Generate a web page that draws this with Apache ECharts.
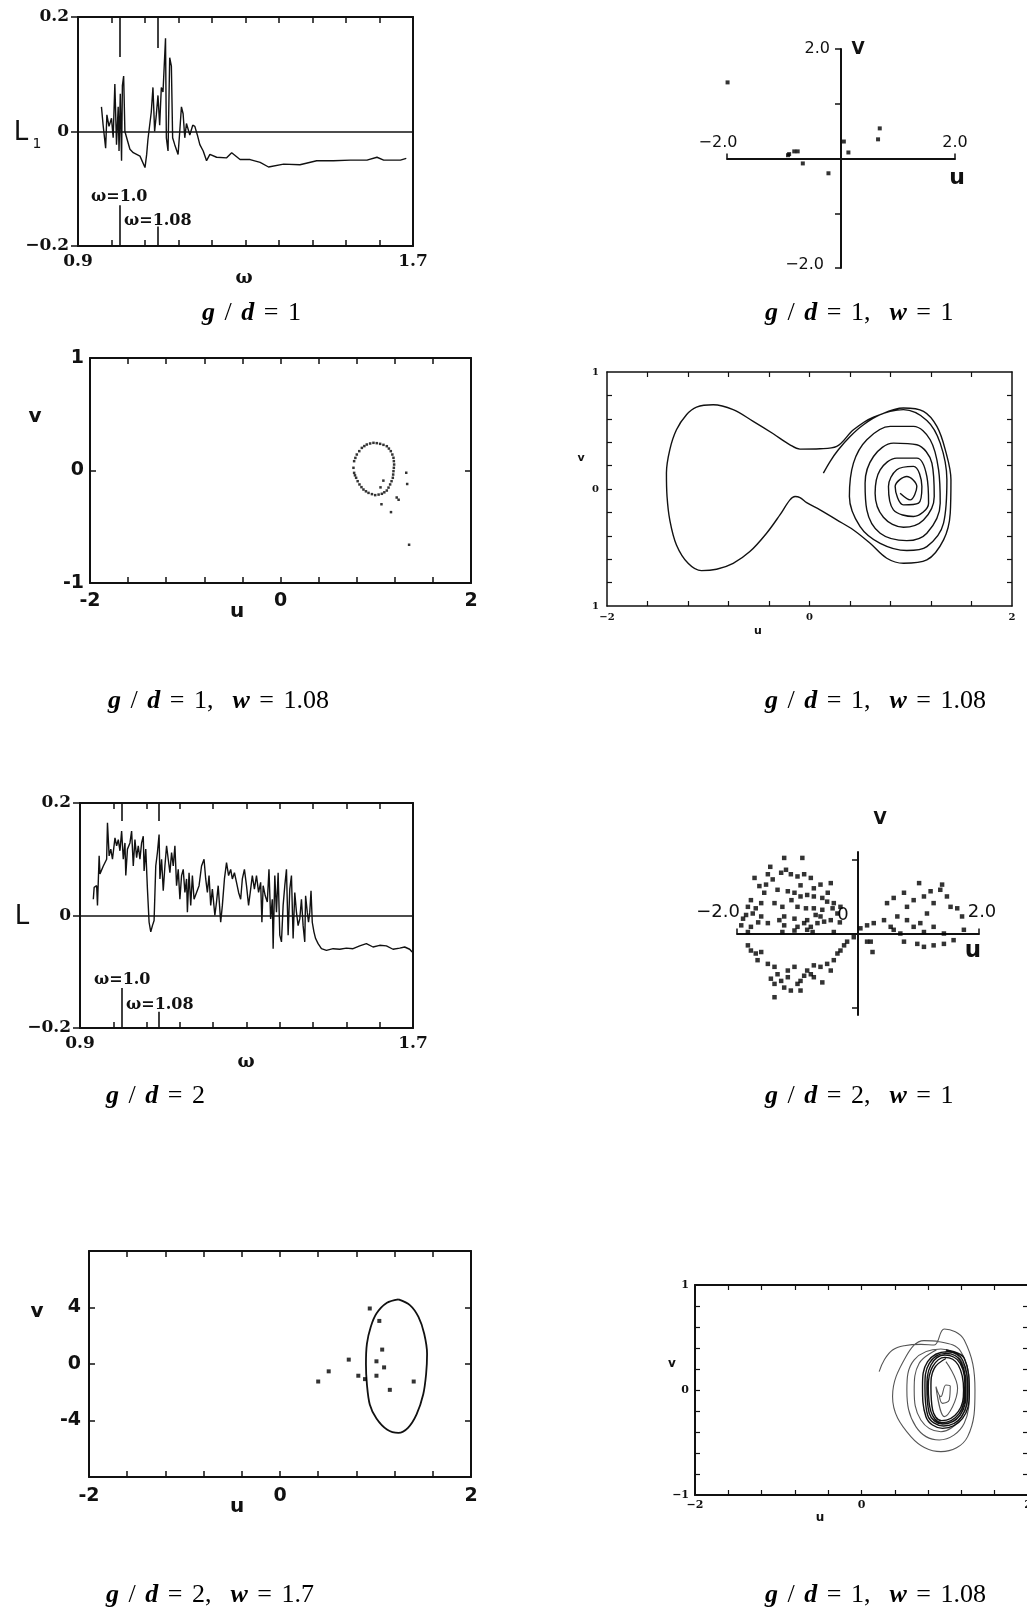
<!DOCTYPE html>
<html><head><meta charset="utf-8">
<script src="https://cdn.jsdelivr.net/npm/echarts@6/dist/echarts.min.js"></script>
<style>html,body{margin:0;padding:0;background:#fff}#c{width:1027px;height:1609px}</style>
</head><body><div id="c"></div>
<script>
// ---------------- DATA ----------------
// Panel 1: Lyapunov exponent L1 vs omega, g/d = 1
const p1Curve = [[0.956,0.043],[0.960,0.011],[0.966,-0.029],[0.969,0.029],[0.974,0.009],[0.980,0.023],[0.984,-0.011],[0.988,0.083],[0.992,-0.023],[0.996,0.043],[0.998,-0.034],[1.001,0.066],[1.004,-0.051],[1.006,0.080],[1.009,0.097],[1.012,0.000],[1.016,-0.003],[1.024,-0.031],[1.032,-0.037],[1.048,-0.043],[1.060,-0.063],[1.064,-0.040],[1.067,-0.014],[1.075,0.034],[1.079,0.077],[1.083,0.000],[1.087,0.029],[1.091,0.063],[1.095,0.011],[1.099,0.077],[1.103,0.069],[1.109,0.163],[1.111,-0.011],[1.115,-0.034],[1.119,0.129],[1.123,0.114],[1.126,-0.011],[1.131,-0.023],[1.139,-0.040],[1.143,0.000],[1.147,0.043],[1.151,0.031],[1.155,-0.011],[1.159,0.014],[1.167,-0.006],[1.174,0.011],[1.179,0.009],[1.185,-0.006],[1.191,-0.023],[1.199,-0.034],[1.207,-0.051],[1.215,-0.040],[1.231,-0.045],[1.255,-0.046],[1.267,-0.037],[1.287,-0.049],[1.311,-0.049],[1.335,-0.054],[1.355,-0.062],[1.391,-0.057],[1.430,-0.058],[1.470,-0.051],[1.510,-0.051],[1.550,-0.050],[1.590,-0.050],[1.614,-0.045],[1.630,-0.050],[1.670,-0.050],[1.684,-0.047]];
const omegaMarks = [1.0, 1.09];
const p1MarkTop = [0.13, 0.146];
const p1MarkBottom = [-0.129, -0.166];
const omegaTicks = [0.98,1.06,1.14,1.22,1.30,1.38,1.46,1.54,1.62];
const omegaLabels = [0.9, 1.7];
const lLabels = [-0.2, 0, 0.2];

// Panel 2: Poincare section g/d = 1, w = 1
const p2Points = [[-1.99,1.39],[-0.93,0.06],[-0.91,0.08],[-0.82,0.13],[-0.76,0.13],[-0.67,-0.09],[-0.22,-0.27],[0.05,0.31],[0.13,0.11],[0.65,0.35],[0.68,0.55]];
const p2VLabels = ['2.0', '−2.0'];
const p2ULabels = ['−2.0', '2.0'];

// Panel 3: g/d = 1, w = 1.08 (dotted orbit)
const p3Loop = [[0.766,0.024],[0.773,0.083],[0.786,0.112],[0.801,0.142],[0.827,0.172],[0.854,0.201],[0.880,0.217],[0.906,0.231],[0.941,0.240],[0.976,0.246],[1.011,0.243],[1.046,0.237],[1.081,0.228],[1.116,0.216],[1.138,0.195],[1.158,0.172],[1.174,0.142],[1.186,0.113],[1.190,0.083],[1.193,0.053],[1.190,0.024],[1.186,-0.006],[1.183,-0.036],[1.179,-0.065],[1.166,-0.095],[1.151,-0.124],[1.134,-0.152],[1.116,-0.178],[1.090,-0.194],[1.064,-0.207],[1.030,-0.214],[0.994,-0.219],[0.960,-0.210],[0.924,-0.199],[0.897,-0.185],[0.871,-0.169],[0.850,-0.148],[0.829,-0.124],[0.810,-0.095],[0.794,-0.065],[0.782,-0.043],[0.773,-0.021]];
const p3Dots = [[1.32,-0.02],[1.33,-0.12],[1.24,-0.26],[1.06,-0.30],[1.16,-0.37],[1.35,-0.66],[1.08,-0.09],[1.05,-0.15],[1.22,-0.24]];

// Panel 4: phase trajectory g/d = 1, w = 1.08
const p4Path = [[0.137,0.136],[0.203,0.235],[0.285,0.335],[0.401,0.449],[0.533,0.549],[0.698,0.635],[0.928,0.692],[1.126,0.663],[1.258,0.535],[1.341,0.335],[1.397,0.078],[1.390,-0.207],[1.324,-0.435],[1.159,-0.606],[0.928,-0.635],[0.763,-0.592],[0.599,-0.464],[0.434,-0.350],[0.269,-0.264],[0.104,-0.178],[-0.028,-0.116],[-0.094,-0.073],[-0.143,-0.064],[-0.193,-0.093],[-0.292,-0.221],[-0.424,-0.378],[-0.589,-0.535],[-0.754,-0.635],[-0.918,-0.686],[-1.067,-0.698],[-1.199,-0.635],[-1.314,-0.478],[-1.380,-0.264],[-1.407,-0.064],[-1.413,0.136],[-1.380,0.335],[-1.314,0.506],[-1.215,0.635],[-1.116,0.700],[-0.951,0.720],[-0.754,0.678],[-0.556,0.578],[-0.358,0.472],[-0.193,0.378],[-0.094,0.341],[0.104,0.344],[0.269,0.364],[0.434,0.506],[0.632,0.615],[0.928,0.678],[1.159,0.586],[1.291,0.392],[1.357,0.078],[1.324,-0.292],[1.159,-0.492],[0.961,-0.526],[0.698,-0.464],[0.500,-0.321],[0.394,-0.064],[0.434,0.221],[0.566,0.421],[0.797,0.535],[1.027,0.535],[1.192,0.421],[1.275,0.164],[1.291,-0.121],[1.159,-0.378],[0.961,-0.441],[0.698,-0.378],[0.566,-0.178],[0.549,0.050],[0.632,0.278],[0.829,0.392],[1.060,0.378],[1.209,0.221],[1.232,-0.064],[1.126,-0.264],[0.928,-0.327],[0.730,-0.242],[0.648,-0.036],[0.698,0.164],[0.862,0.264],[1.060,0.264],[1.159,0.107],[1.176,-0.121],[1.027,-0.235],[0.829,-0.178],[0.780,0.021],[0.862,0.164],[1.027,0.193],[1.110,0.021],[1.077,-0.121],[0.928,-0.136],[0.846,0.021],[0.961,0.107],[1.060,0.021],[0.994,-0.093],[0.895,-0.036]];

// Panel 5: Lyapunov exponent L vs omega, g/d = 2
const p5Curve = [[0.932,0.029],[0.934,0.050],[0.940,0.053],[0.942,0.018],[0.946,0.106],[0.948,0.074],[0.956,0.088],[0.964,0.100],[0.966,0.165],[0.970,0.106],[0.974,0.118],[0.978,0.100],[0.984,0.138],[0.988,0.124],[0.992,0.135],[0.996,0.115],[1.000,0.150],[1.004,0.100],[1.008,0.129],[1.010,0.071],[1.014,0.118],[1.020,0.129],[1.024,0.150],[1.028,0.088],[1.032,0.135],[1.036,0.103],[1.040,0.124],[1.044,0.100],[1.048,0.129],[1.052,0.141],[1.054,0.079],[1.058,0.118],[1.062,0.047],[1.066,-0.012],[1.070,-0.029],[1.074,-0.018],[1.078,-0.009],[1.082,0.088],[1.086,0.112],[1.090,0.144],[1.092,0.065],[1.096,0.100],[1.100,0.044],[1.104,0.088],[1.108,0.124],[1.112,0.100],[1.116,0.076],[1.120,0.112],[1.124,0.088],[1.128,0.124],[1.132,0.053],[1.136,0.082],[1.140,0.029],[1.144,0.071],[1.148,0.082],[1.152,0.041],[1.156,0.065],[1.158,0.006],[1.162,0.076],[1.166,0.018],[1.170,0.071],[1.174,0.029],[1.180,0.041],[1.186,0.053],[1.192,0.088],[1.198,0.100],[1.202,0.065],[1.206,0.041],[1.210,0.071],[1.214,0.018],[1.218,0.047],[1.224,0.000],[1.228,0.024],[1.232,0.053],[1.238,-0.012],[1.242,0.018],[1.247,0.065],[1.252,0.094],[1.257,0.071],[1.262,0.082],[1.266,0.065],[1.271,0.076],[1.276,0.059],[1.281,0.041],[1.286,0.029],[1.290,0.065],[1.295,0.082],[1.300,0.053],[1.305,0.018],[1.310,0.047],[1.314,0.071],[1.319,0.047],[1.324,0.071],[1.329,0.041],[1.334,0.059],[1.337,-0.012],[1.340,0.053],[1.345,0.035],[1.350,0.024],[1.354,0.082],[1.358,-0.006],[1.362,0.029],[1.364,-0.059],[1.368,0.071],[1.372,0.006],[1.376,0.076],[1.380,-0.035],[1.384,-0.047],[1.388,0.018],[1.392,0.053],[1.396,0.082],[1.400,-0.035],[1.404,0.047],[1.408,0.071],[1.412,-0.041],[1.416,0.041],[1.420,0.006],[1.424,-0.018],[1.428,-0.006],[1.432,0.029],[1.436,-0.018],[1.440,-0.047],[1.442,0.035],[1.446,0.006],[1.449,-0.012],[1.452,0.006],[1.455,0.044],[1.458,-0.012],[1.462,-0.029],[1.466,-0.041],[1.472,-0.050],[1.480,-0.059],[1.492,-0.062],[1.508,-0.059],[1.524,-0.060],[1.540,-0.058],[1.556,-0.059],[1.572,-0.054],[1.588,-0.050],[1.604,-0.056],[1.620,-0.053],[1.636,-0.054],[1.652,-0.060],[1.668,-0.058],[1.680,-0.056],[1.692,-0.060],[1.698,-0.065]];
const p5MarkTop = [0.168, 0.168];
const p5MarkBottom = [-0.129, -0.171];

// Panel 6: Poincare section g/d = 2, w = 1
const p6Points = [[-1.22,1.02],[-0.92,1.02],[-1.71,0.75],[-1.49,0.80],[-1.41,0.73],[-1.27,0.82],[-1.19,0.86],[-1.11,0.80],[-1.00,0.77],[-0.89,0.80],[-0.78,0.75],[-0.73,0.61],[-0.62,0.66],[-0.45,0.68],[-1.63,0.64],[-1.52,0.66],[-1.33,0.59],[-1.16,0.57],[-1.05,0.55],[-0.95,0.50],[-0.84,0.52],[-0.73,0.50],[-0.59,0.48],[-0.51,0.43],[-0.40,0.41],[-1.77,0.45],[-1.82,0.36],[-1.69,0.34],[-1.60,0.41],[-1.38,0.41],[-1.25,0.36],[-1.00,0.36],[-0.86,0.34],[-0.73,0.34],[-0.59,0.32],[-0.42,0.34],[-0.29,0.36],[-1.85,0.25],[-1.74,0.27],[-1.60,0.23],[-1.22,0.23],[-1.05,0.20],[-0.84,0.18],[-0.62,0.23],[-0.45,0.18],[-0.34,0.27],[-1.93,0.11],[-1.77,0.09],[-1.49,0.14],[-1.22,0.11],[-1.00,0.09],[-0.89,0.14],[-0.78,0.09],[-0.67,0.14],[-0.56,0.16],[-0.40,0.02],[-1.82,0.02],[-1.25,0.02],[-1.05,0.04],[-0.84,0.05],[-0.75,0.02],[-1.45,0.90],[-1.55,0.55],[-0.95,0.65],[-1.30,0.18],[-0.70,0.25],[-1.90,0.20],[-0.50,0.55],[-1.10,0.45],[-1.65,0.15],[-0.30,0.15],
[-1.82,-0.16],[-1.77,-0.23],[-1.69,-0.27],[-1.60,-0.25],[-1.66,-0.36],[-1.49,-0.41],[-1.38,-0.45],[-1.33,-0.55],[-1.44,-0.61],[-1.38,-0.68],[-1.27,-0.64],[-1.16,-0.59],[-1.22,-0.73],[-1.11,-0.77],[-1.00,-0.68],[-0.95,-0.64],[-0.89,-0.57],[-0.84,-0.50],[-0.78,-0.55],[-0.73,-0.43],[-0.62,-0.45],[-0.51,-0.41],[-0.45,-0.50],[-0.59,-0.66],[-0.40,-0.36],[-0.34,-0.27],[-0.29,-0.23],[-0.23,-0.16],[-0.18,-0.11],[-0.07,-0.05],[-1.38,-0.86],[-1.16,-0.50],[-1.05,-0.45],[-0.95,-0.77],[-0.73,-0.59],
[0.04,0.07],[0.15,0.11],[0.26,0.14],[0.21,-0.11],[0.43,0.18],[0.48,0.41],[0.59,0.48],[0.76,0.55],[0.81,0.36],[0.92,0.45],[1.01,0.68],[1.09,0.50],[1.20,0.57],[1.25,0.41],[1.36,0.59],[1.39,0.66],[1.47,0.50],[1.53,0.36],[1.64,0.34],[1.72,0.23],[1.14,0.27],[1.03,0.14],[0.81,0.18],[0.65,0.23],[0.54,0.09],[0.59,0.05],[0.70,0.00],[0.92,0.09],[1.09,0.02],[1.25,0.09],[1.42,0.00],[1.75,0.05],[0.76,-0.11],[0.98,-0.14],[1.09,-0.18],[1.25,-0.16],[1.42,-0.14],[1.58,-0.09],[0.15,-0.11],[0.24,-0.25]];

// Panel 7: g/d = 2, w = 1.7
const p7Orbit = [[1.24,4.57],[1.36,4.17],[1.45,3.33],[1.51,2.14],[1.54,0.71],[1.53,-0.71],[1.50,-2.14],[1.43,-3.57],[1.34,-4.52],[1.24,-4.88],[1.12,-4.64],[1.01,-3.86],[0.94,-2.86],[0.91,-1.43],[0.90,0.00],[0.91,1.43],[0.95,2.62],[1.01,3.57],[1.12,4.33],[1.24,4.57]];
const p7Dots = [[0.94,3.93],[1.04,3.05],[1.07,1.02],[1.01,0.19],[1.09,-0.24],[0.72,0.31],[0.82,-0.83],[0.89,-1.07],[1.01,-0.83],[0.51,-0.52],[0.40,-1.24],[1.15,-1.83],[1.40,-1.24]];

// Panel 8: g/d = 1, w = 1.08 (trajectory)
const p8Outer = [[0.212,0.175],[0.273,0.286],[0.373,0.381],[0.513,0.422],[0.713,0.435],[0.874,0.429],[0.994,0.581],[1.234,0.476],[1.363,0.0],[1.275,-0.444],[0.954,-0.587],[0.593,-0.444],[0.373,-0.063],[0.533,0.317],[0.75,0.47],[0.934,0.460],[1.194,0.365],[1.295,0],[1.234,-0.317],[0.934,-0.476],[0.653,-0.349],[0.545,0],[0.633,0.286],[0.954,0.390],[1.194,0.286],[1.275,0],[1.202,-0.254],[0.954,-0.397],[0.713,-0.286],[0.633,0],[0.693,0.254],[0.90,0.38]];
const p8Dense = [[1.014,0.381],[1.234,0.302],[1.295,-0.032],[1.214,-0.270],[0.974,-0.365],[0.774,-0.254],[0.733,0.032],[0.794,0.270],[1.026,0.365],[1.214,0.286],[1.275,-0.016],[1.202,-0.254],[0.986,-0.343],[0.794,-0.238],[0.762,0.032],[0.814,0.254],[1.014,0.349],[1.194,0.270],[1.255,-0.016],[1.186,-0.238],[0.974,-0.324],[0.814,-0.222],[0.786,0.016],[0.834,0.238],[1.002,0.333],[1.186,0.254],[1.242,0],[1.174,-0.222],[0.962,-0.311],[0.834,-0.206],[0.802,0.032],[0.854,0.222],[1.002,0.311],[1.162,0.238],[1.226,0],[1.162,-0.206],[0.962,-0.292],[0.854,-0.190],[0.834,0.032],[0.874,0.206],[1.014,0.300]];
const p8Core = [[1.014,0.270],[1.154,0.016],[0.994,-0.254],[0.894,0.032],[0.954,-0.063],[1.014,0.048],[1.066,0.038],[1.054,-0.095],[0.974,-0.127],[0.934,-0.048]];

const uTicks = [-1.6,-1.2,-0.8,-0.4,0,0.4,0.8,1.2,1.6];
const vTicks02 = [-0.8,-0.6,-0.4,-0.2,0,0.2,0.4,0.6,0.8];

// ---------------- CHART ----------------
const INK = '#111';
const grids = [], xAxes = [], yAxes = [], series = [], graphics = [];

function addGrid(l,t,w,h){ grids.push({left:l,top:t,width:w,height:h,containLabel:false,outerBoundsMode:'none',show:false}); return grids.length-1; }
function ax(g,min,max,pos,lw,onZero){
  return {gridIndex:g,type:'value',min:min,max:max,position:pos,splitLine:{show:false},splitArea:{show:false},
    axisLine:{show:true,onZero:!!onZero,lineStyle:{color:INK,width:lw}},axisTick:{show:false},axisLabel:{show:false},axisPointer:{show:false}};
}
function tk(vals,len,inside,w){ return {show:vals.length>0,inside:inside,length:len,customValues:vals,lineStyle:{color:INK,width:w||1.5}}; }
function lb(vals,fmt,family,size,weight,margin){
  return {show:true,customValues:vals,formatter:fmt,color:INK,fontFamily:family,fontSize:size,fontWeight:weight,margin:margin,hideOverlap:false,showMinLabel:true,showMaxLabel:true};
}
function box(g,o){
  const xb = ax(g,o.x[0],o.x[1],'bottom',o.lw); xb.axisTick = tk(o.xTicks,o.tl,true,o.tw);
  if (o.xLab) xb.axisLabel = lb(o.xLab,o.xFmt,o.ff,o.fs,o.fw,o.xm);
  const xt = ax(g,o.x[0],o.x[1],'top',o.lw); xt.axisTick = tk(o.xTicksTop||o.xTicks,o.tl,true,o.tw);
  const yl = ax(g,o.y[0],o.y[1],'left',o.lw); yl.axisTick = tk(o.yTicks,o.ytl||o.tl,!o.yOut,o.tw);
  if (o.yLab) yl.axisLabel = lb(o.yLab,o.yFmt,o.ff,o.fs,o.fw,o.ym);
  const yr = ax(g,o.y[0],o.y[1],'right',o.lw); yr.axisTick = tk(o.yTicksR||[],o.tl,true,o.tw);
  xAxes.push(xb,xt); yAxes.push(yl,yr);
  return {xi:xAxes.length-2, yi:yAxes.length-2};
}
function txt(x,y,text,font,align,va){ graphics.push({type:'text',x:x,y:y,silent:true,style:{text:text,font:font,fill:INK,align:align||'center',verticalAlign:va||'middle'}}); }
function markSegs(xs,y0,y1){ const d=[]; xs.forEach((x,i)=>{ d.push([{coord:[x,y0[i]]},{coord:[x,y1[i]]}]); }); return d; }
function lineS(a,data,opt){ return Object.assign({type:'line',xAxisIndex:a.xi,yAxisIndex:a.yi,data:data,showSymbol:false,symbol:'none',animation:false,silent:true,lineStyle:{color:INK,width:1.2},z:5},opt||{}); }
function dotS(a,data,size){ return {type:'scatter',xAxisIndex:a.xi,yAxisIndex:a.yi,data:data,symbol:'rect',symbolSize:size,itemStyle:{color:'#000'},animation:false,silent:true,z:5}; }
const mlBase = {silent:true,symbol:['none','none'],label:{show:false},animation:false,lineStyle:{type:'solid',color:INK,width:1.6},emphasis:{disabled:true}};

const fmtSigned = (v)=> (v<0?'−':'') + String(Math.abs(v));
const SER = 'DejaVu Serif', SANS = 'DejaVu Sans';

// Panel 1
{
  const g = addGrid(78,17,335,229);
  const a = box(g,{x:[0.9,1.7],y:[-0.2,0.2],lw:2,tl:6,tw:1.5,xTicks:omegaTicks,yTicks:lLabels,yOut:true,ytl:7,
    xLab:omegaLabels,xFmt:(v)=>v<1?'0.9':'1.7',yLab:lLabels,yFmt:(v)=>v>0.1?'0.2':(v<-0.1?'−0.2':'0'),ff:SER,fs:17,fw:'bold',xm:7,ym:9});
  series.push(lineS(a,p1Curve,{lineStyle:{color:INK,width:1.4},markLine:Object.assign({},mlBase,{data:[{yAxis:0}].concat(markSegs(omegaMarks,[0.2,0.2],p1MarkTop),markSegs(omegaMarks,[-0.2,-0.2],p1MarkBottom))})}));
  txt(21,133,'L','26px "DejaVu Sans"');
  txt(37,144,'1','14px "DejaVu Sans"');
  txt(244,278,'ω','bold 18px "DejaVu Serif"');
  txt(91,197,'ω=1.0','bold 16px "DejaVu Serif"','left');
  txt(124,221,'ω=1.08','bold 16px "DejaVu Serif"','left');
}
// Panel 2
{
  const g = addGrid(727,49,228,219);
  const xa = ax(g,-2,2,'bottom',2,true); xa.axisTick = tk([-2,2],5,true,1.5);
  const ya = ax(g,-2,2,'left',2,true); ya.axisTick = tk([-2,-1,1,2],6,false,1.5);
  xAxes.push(xa); yAxes.push(ya);
  const a = {xi:xAxes.length-1, yi:yAxes.length-1};
  series.push(dotS(a,p2Points,4));
  txt(830,49,p2VLabels[0],'16px "DejaVu Sans"','right');
  txt(824,265,p2VLabels[1],'16px "DejaVu Sans"','right');
  txt(718,143,p2ULabels[0],'16px "DejaVu Sans"');
  txt(955,143,p2ULabels[1],'16px "DejaVu Sans"');
  txt(858,50,'V','bold 17px "DejaVu Sans"');
  txt(957,178,'u','bold 22px "DejaVu Sans"');
}
// Panel 3
{
  const g = addGrid(90,358,381,225);
  const a = box(g,{x:[-2,2],y:[-1,1],lw:2,tl:6,tw:1.5,xTicks:uTicks,yTicks:[0],yTicksR:[0],
    xLab:[-2,0,2],xFmt:(v)=>String(v),yLab:[-1,0,1],yFmt:(v)=>String(v),ff:SANS,fs:19,fw:'bold',xm:9,ym:6});
  series.push(dotS(a,p3Loop,2.5));
  series.push(dotS(a,p3Dots,2.5));
  txt(237,612,'u','bold 20px "DejaVu Sans"');
  txt(35,417,'v','bold 20px "DejaVu Sans"');
}
// Panel 4
{
  const g = addGrid(607,372,405,234);
  const a = box(g,{x:[-2,2],y:[-1,1],lw:1.5,tl:5,tw:1.2,xTicks:uTicks,yTicks:vTicks02,yTicksR:vTicks02,
    xLab:[-2,0,2],xFmt:(v)=>fmtSigned(v),yLab:[-1,0,1],yFmt:(v)=>String(Math.abs(v)),ff:SER,fs:10,fw:'bold',xm:6,ym:8});
  series.push(lineS(a,p4Path,{smooth:0.35,lineStyle:{color:INK,width:1.4}}));
  txt(758,631,'u','bold 11px "DejaVu Sans"');
  txt(581,458,'v','bold 11px "DejaVu Sans"');
}
// Panel 5
{
  const g = addGrid(80,803,333,225);
  const a = box(g,{x:[0.9,1.7],y:[-0.2,0.2],lw:2,tl:6,tw:1.5,xTicks:omegaTicks,yTicks:lLabels,yOut:true,ytl:7,
    xLab:omegaLabels,xFmt:(v)=>v<1?'0.9':'1.7',yLab:lLabels,yFmt:(v)=>v>0.1?'0.2':(v<-0.1?'−0.2':'0'),ff:SER,fs:17,fw:'bold',xm:7,ym:9});
  series.push(lineS(a,p5Curve,{lineStyle:{color:INK,width:1.4},markLine:Object.assign({},mlBase,{data:[{yAxis:0}].concat(markSegs(omegaMarks,[0.2,0.2],p5MarkTop),markSegs(omegaMarks,[-0.2,-0.2],p5MarkBottom))})}));
  txt(22,917,'L','26px "DejaVu Sans"');
  txt(246,1062,'ω','bold 18px "DejaVu Serif"');
  txt(94,980,'ω=1.0','bold 16px "DejaVu Serif"','left');
  txt(126,1005,'ω=1.08','bold 16px "DejaVu Serif"','left');
}
// Panel 6
{
  const g = addGrid(737,852,242,163);
  const xa = ax(g,-2,2,'bottom',2,true); xa.axisTick = tk([-2,2],5,true,1.5);
  const ya = ax(g,-1.1,1.1,'left',2,true); ya.axisTick = tk([-1,1],6,false,1.5);
  xAxes.push(xa); yAxes.push(ya);
  const a = {xi:xAxes.length-1, yi:yAxes.length-1};
  series.push(dotS(a,p6Points,4.5));
  txt(718,912,'−2.0','18px "DejaVu Sans"');
  txt(982,912,'2.0','18px "DejaVu Sans"');
  txt(843,915,'0','18px "DejaVu Sans"');
  txt(880,820,'V','bold 17px "DejaVu Sans"');
  txt(973,951,'u','bold 23px "DejaVu Sans"');
}
// Panel 7
{
  const g = addGrid(89,1251,382,226);
  const a = box(g,{x:[-2,2],y:[-8,8],lw:2,tl:6,tw:1.5,xTicks:uTicks,yTicks:[-4,0,4],yTicksR:[-4,0,4],
    xLab:[-2,0,2],xFmt:(v)=>String(v),yLab:[-4,0,4],yFmt:(v)=>String(v),ff:SANS,fs:19,fw:'bold',xm:10,ym:8});
  series.push(lineS(a,p7Orbit,{smooth:0.3,lineStyle:{color:INK,width:1.8}}));
  series.push(dotS(a,p7Dots,4));
  txt(237,1507,'u','bold 20px "DejaVu Sans"');
  txt(37,1312,'v','bold 20px "DejaVu Sans"');
}
// Panel 8
{
  const g = addGrid(695,1285,333,210);
  const a = box(g,{x:[-2,2],y:[-1,1],lw:2,tl:5,tw:1.2,xTicks:uTicks,yTicks:vTicks02,yTicksR:vTicks02,
    xLab:[-2,0,2],xFmt:(v)=>fmtSigned(v),yLab:[-1,0,1],yFmt:(v)=>fmtSigned(v),ff:SER,fs:11,fw:'bold',xm:5,ym:6});
  series.push(lineS(a,p8Outer,{smooth:0.4,lineStyle:{color:'#555',width:1.1}}));
  series.push(lineS(a,p8Dense,{smooth:0.4,lineStyle:{color:'#111',width:1.4}}));
  series.push(lineS(a,p8Core,{smooth:0.4,lineStyle:{color:'#555',width:1.1}}));
  txt(820,1518,'u','bold 12px "DejaVu Sans"');
  txt(672,1364,'v','bold 12px "DejaVu Sans"');
}

// Captions
const capRich = {
  b:{fontFamily:'Liberation Serif',fontSize:26,fontWeight:'bold',fontStyle:'italic',fill:'#000'},
  r:{fontFamily:'Liberation Serif',fontSize:26,fill:'#000'},
  s:{fontFamily:'Liberation Serif',fontSize:38,fill:'#000'}
};
function caption(x,y,gd,w){
  let t = '{b|g}{s| }{r|/}{s| }{b|d}{s| }{r|=}{s| }{r|'+gd+(w?',':'')+'}';
  if (w) t += '{s| }{s| }{b|w}{s| }{r|=}{s| }{r|'+w+'}';
  graphics.push({type:'text',x:x,y:y,silent:true,style:{text:t,rich:capRich,align:'left',verticalAlign:'middle'}});
}
caption(202,313,'1');
caption(765,313,'1','1');
caption(108,701,'1','1.08');
caption(765,701,'1','1.08');
caption(106,1096,'2');
caption(765,1096,'2','1');
caption(106,1595,'2','1.7');
caption(765,1595,'1','1.08');

const chart = echarts.init(document.getElementById('c'),null,{renderer:'canvas'});
chart.setOption({animation:false,backgroundColor:'#fff',grid:grids,xAxis:xAxes,yAxis:yAxes,series:series,graphic:graphics,tooltip:{show:false}});
</script></body></html>
